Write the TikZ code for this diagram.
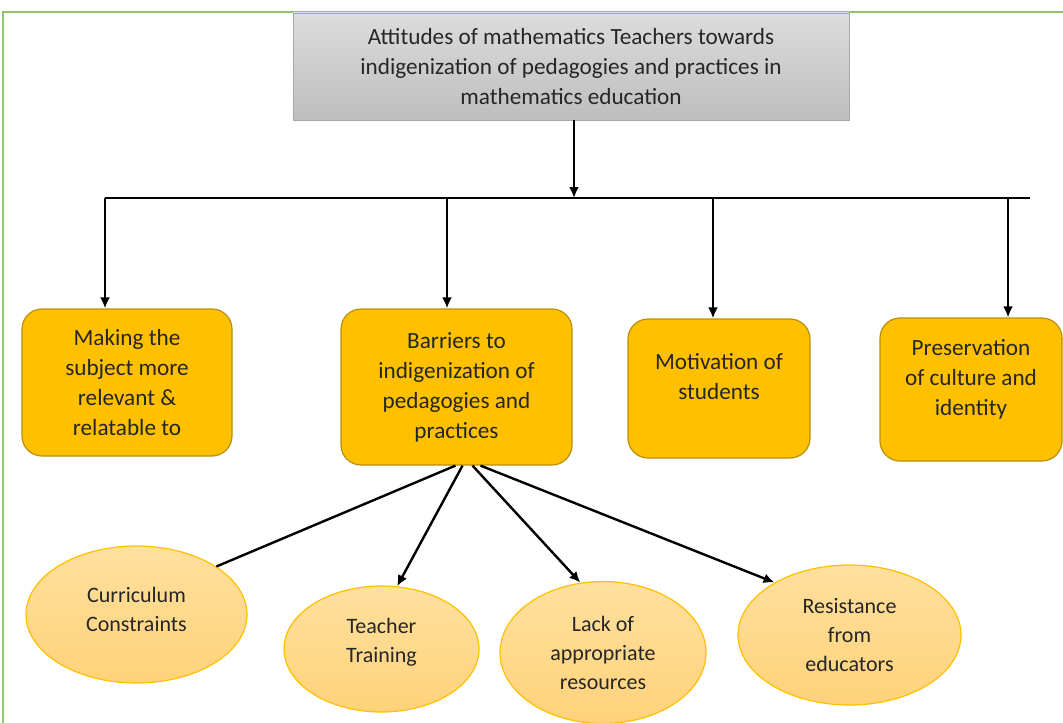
\documentclass[tikz,border=0pt]{standalone}
\usepackage{fontspec}
\setmainfont{Carlito}
\usepackage{tikz}
\usetikzlibrary{arrows.meta,shapes.geometric,positioning}
\definecolor{FrameGreen}{HTML}{8DC56B}
\definecolor{HeadTop}{HTML}{DCDCDC}
\definecolor{HeadBottom}{HTML}{BEBEBE}
\definecolor{HeadEdge}{HTML}{A8A8A8}
\definecolor{BoxGold}{HTML}{FFC000}
\definecolor{BoxEdge}{HTML}{B8900A}
\definecolor{OvalTop}{HTML}{FFE09E}
\definecolor{OvalBottom}{HTML}{FFD27A}
\definecolor{InkDark}{HTML}{262626}

\begin{document}
\begin{tikzpicture}[x=0.5pt,y=-0.5pt,>={Latex[length=5.5pt,width=5pt]},
    txt/.style={align=center,text=InkDark,font=\fontsize{11.6}{15}\selectfont},
    head/.style={txt,draw=HeadEdge,top color=HeadTop,bottom color=HeadBottom},
    theme/.style={txt,draw=BoxEdge,fill=BoxGold,rounded corners=10pt,line width=0.6pt},
    issue/.style={txt,ellipse,draw=BoxGold,top color=OvalTop,bottom color=OvalBottom,
      inner sep=0pt,line width=0.6pt,font=\fontsize{11}{14.5}\selectfont},
    link/.style={line width=1.2pt,black}]
  \useasboundingbox (0,0) rectangle (1063,722);
  \draw[FrameGreen,line width=1pt] (3,730) |- (1070,12);

  % heading box
  \node[head,minimum width=278pt,minimum height=53.5pt] (head) at (571,66.5)
    {Attitudes of mathematics Teachers towards\\indigenization of pedagogies and practices in\\mathematics education};

  % themes
  \node[theme,minimum width=105pt,minimum height=73.5pt] (make) at (127,382.5)
    {Making the\\subject more\\relevant \&\\relatable to};
  \node[theme,minimum width=115.5pt,minimum height=78pt] (barrier) at (456.5,387)
    {Barriers to\\indigenization of\\pedagogies and\\practices};
  \node[theme,minimum width=91pt,minimum height=69.5pt,text depth=12pt] (motiv) at (719,388.5)
    {Motivation of\\students};
  \node[theme,minimum width=91pt,minimum height=71.5pt,text depth=12pt] (culture) at (971,389.5)
    {Preservation\\of culture and\\identity};

  % barriers
  \node[issue,minimum width=110.5pt,minimum height=68.5pt,text height=17pt] (curric) at (136.5,614.5)
    {Curriculum\\Constraints};
  \node[issue,minimum width=97.5pt,minimum height=63pt,text depth=8.5pt] (train) at (381.5,649)
    {Teacher\\Training};
  \node[issue,minimum width=103pt,minimum height=71pt] (lack) at (603,652.5)
    {Lack of\\appropriate\\resources};
  \node[issue,minimum width=111.5pt,minimum height=70pt] (resist) at (849.5,635)
    {Resistance\\from\\educators};

  % tree lines
  \coordinate (hub) at (574,198);
  \coordinate (barL) at (105,198);
  \coordinate (barR) at (1030,198);
  \draw[link,->] (head.south -| hub) -- (hub);
  \draw[link] (barL) -- (barR);
  \foreach \n/\x in {make/105,barrier/447,motiv/713,culture/1008}{
    \coordinate (drop\n) at (\x,198);
    \draw[link,->] (drop\n) -- (drop\n |- \n.north);
  }
  \draw[link] ([xshift=-0.5pt]barrier.south) -- (curric.31);
  \draw[link,->] ([xshift=3pt]barrier.south) -- (train.76);
  \draw[link,->] ([xshift=8pt]barrier.south) -- (lack.108);
  \draw[link,->] ([xshift=12pt]barrier.south) -- (resist.145);
\end{tikzpicture}
\end{document}
